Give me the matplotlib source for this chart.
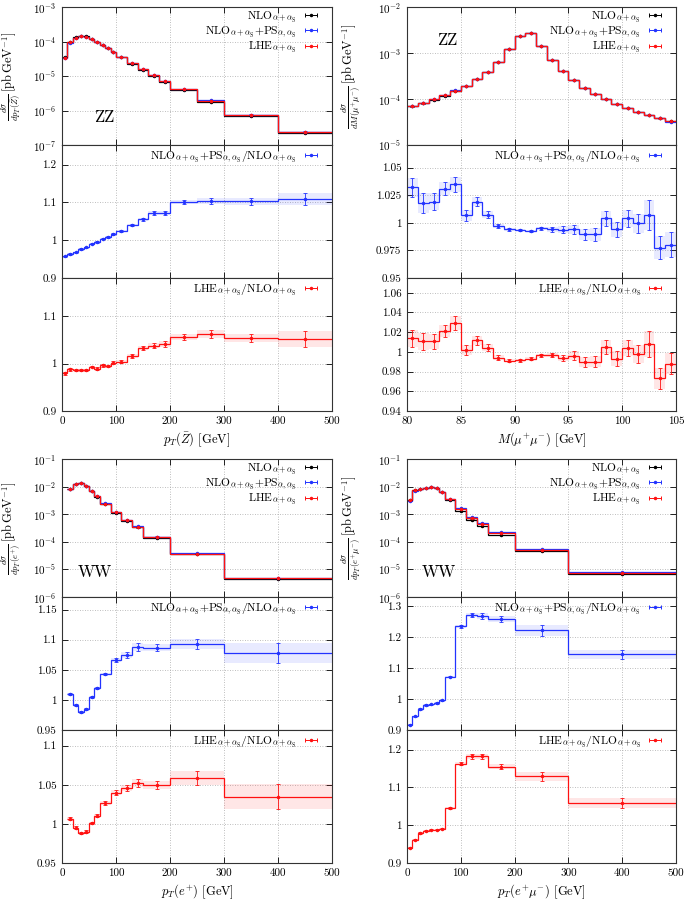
import numpy as np
import matplotlib
matplotlib.use('Agg')
import matplotlib.pyplot as plt
from matplotlib.ticker import FixedLocator, FixedFormatter, LogLocator, NullLocator, LogFormatterSciNotation

plt.rcParams['font.family'] = 'serif'
plt.rcParams['font.serif'] = ['cmr10', 'DejaVu Serif']
plt.rcParams['mathtext.fontset'] = 'cm'
plt.rcParams['axes.formatter.use_mathtext'] = True
plt.rcParams['axes.unicode_minus'] = False

# ---------------- data ----------------
# ZZ, pT(Zbar)
zz_pt_edges = [0, 10, 20, 30, 40, 50, 60, 70, 80, 90, 100, 120, 140, 160, 180, 200, 250, 300, 400, 500]
zz_pt_nlo = [3.5e-5, 9.6e-5, 1.31e-4, 1.46e-4, 1.40e-4, 1.20e-4, 9.6e-5, 7.8e-5, 6.4e-5, 4.9e-5,
             3.5e-5, 2.3e-5, 1.5e-5, 1.0e-5, 6.8e-6, 3.9e-6, 1.8e-6, 6.9e-7, 2.2e-7]
zz_pt_ps = [0.957, 0.963, 0.968, 0.977, 0.981, 0.991, 0.995, 1.004, 1.008, 1.016,
            1.025, 1.041, 1.055, 1.072, 1.072, 1.101, 1.104, 1.103, 1.110]
zz_pt_ps_err = [0.002, 0.002, 0.002, 0.002, 0.002, 0.002, 0.002, 0.002, 0.002, 0.002,
                0.002, 0.003, 0.004, 0.004, 0.004, 0.005, 0.007, 0.008, 0.014]
zz_pt_lhe = [0.980, 0.988, 0.986, 0.987, 0.987, 0.994, 0.989, 0.997, 0.995, 1.002,
             1.004, 1.017, 1.034, 1.038, 1.041, 1.057, 1.063, 1.055, 1.053]
zz_pt_lhe_err = [0.003, 0.003, 0.002, 0.002, 0.002, 0.002, 0.003, 0.003, 0.003, 0.003,
                 0.003, 0.004, 0.004, 0.005, 0.006, 0.006, 0.008, 0.008, 0.016]

# ZZ, M(mu+ mu-)
zz_m_edges = list(range(80, 106))
zz_m_nlo = [6.9e-5, 8.0e-5, 9.7e-5, 1.18e-4, 1.48e-4, 1.93e-4, 2.68e-4, 3.9e-4, 6.4e-4, 1.22e-3,
            2.39e-3, 2.68e-3, 1.44e-3, 7.1e-4, 4.0e-4, 2.55e-4, 1.75e-4, 1.28e-4, 1.0e-4, 7.8e-5,
            6.4e-5, 5.3e-5, 4.5e-5, 3.9e-5, 3.3e-5]
zz_m_ps = [1.032, 1.018, 1.019, 1.031, 1.035, 1.007, 1.019, 1.0075, 0.997, 0.994,
           0.9934, 0.9925, 0.995, 0.994, 0.9937, 0.994, 0.9897, 0.9897, 1.004, 0.994,
           1.004, 0.9994, 1.007, 0.9776, 0.980]
zz_m_ps_err = [0.0085, 0.009, 0.0075, 0.006, 0.0065, 0.005, 0.004, 0.0035, 0.002, 0.0015,
               0.0012, 0.0012, 0.0015, 0.002, 0.003, 0.004, 0.005, 0.006, 0.007, 0.007,
               0.008, 0.009, 0.0135, 0.011, 0.0115]
zz_m_lhe = [1.014, 1.011, 1.011, 1.021, 1.029, 1.002, 1.012, 1.004, 0.994, 0.991,
            0.9916, 0.993, 0.9966, 0.9966, 0.994, 0.996, 0.990, 0.990, 1.005, 0.993,
            1.004, 0.998, 1.008, 0.973, 0.988]
zz_m_lhe_err = [0.0085, 0.0085, 0.0075, 0.006, 0.007, 0.005, 0.0045, 0.0035, 0.0025, 0.0017,
                0.0014, 0.0014, 0.0017, 0.0023, 0.0033, 0.0045, 0.005, 0.0057, 0.007, 0.0075,
                0.0085, 0.0095, 0.013, 0.011, 0.011]

# WW, pT(e+)
ww_pt_edges = [10, 20, 30, 40, 50, 60, 70, 90, 110, 130, 150, 200, 300, 500]
ww_pt_nlo = [8.2e-3, 1.28e-2, 1.36e-2, 1.03e-2, 6.9e-3, 4.35e-3, 2.36e-3, 1.12e-3, 5.9e-4,
             3.3e-4, 1.43e-4, 3.5e-5, 4.6e-6]
ww_pt_ps = [1.010, 0.992, 0.980, 0.985, 1.0045, 1.020, 1.043, 1.066, 1.074, 1.088, 1.087, 1.093, 1.078]
ww_pt_ps_err = [0.0015, 0.0015, 0.0015, 0.0015, 0.0015, 0.0018, 0.002, 0.003, 0.0045,
                0.0055, 0.005, 0.008, 0.016]
ww_pt_lhe = [1.0068, 0.995, 0.988, 0.990, 1.001, 1.0106, 1.027, 1.040, 1.046, 1.052, 1.050, 1.059, 1.035]
ww_pt_lhe_err = [0.0017, 0.0017, 0.0015, 0.0017, 0.0017, 0.002, 0.0022, 0.0034, 0.004,
                 0.005, 0.005, 0.0085, 0.0157]

# WW, pT(e+ mu-)
ww_ptem_edges = [0, 10, 20, 30, 40, 50, 60, 70, 90, 110, 130, 150, 200, 300, 500]
ww_ptem_nlo = [3.4e-3, 7.6e-3, 8.5e-3, 9.2e-3, 9.5e-3, 8.7e-3, 6.4e-3, 3.4e-3, 1.32e-3,
               6.4e-4, 3.8e-4, 1.75e-4, 4.6e-5, 7.0e-6]
ww_ptem_ps = [0.917, 0.944, 0.968, 0.981, 0.983, 0.987, 0.996, 1.072, 1.235, 1.273, 1.268, 1.258, 1.222, 1.145]
ww_ptem_ps_err = [0.002, 0.002, 0.002, 0.002, 0.002, 0.002, 0.002, 0.002, 0.003,
                  0.005, 0.0075, 0.0075, 0.014, 0.013]
ww_ptem_lhe = [0.941, 0.962, 0.980, 0.986, 0.988, 0.988, 0.991, 1.0456, 1.163, 1.182, 1.182, 1.155, 1.130, 1.059]
ww_ptem_lhe_err = [0.002, 0.002, 0.002, 0.002, 0.002, 0.002, 0.002, 0.002, 0.003,
                   0.005, 0.005, 0.005, 0.0105, 0.012]

# ---------------- style ----------------
C_NLO = '#000000'
C_PS = '#2233ff'
C_LHE = '#ff1111'
FS = 8

lab_nlo = r'NLO$_{\alpha+\alpha_{\rm S}}$'
lab_ps = r'NLO$_{\alpha+\alpha_{\rm S}}$+PS$_{\alpha,\alpha_{\rm S}}$'
lab_lhe = r'LHE$_{\alpha+\alpha_{\rm S}}$'
lab_r1 = r'NLO$_{\alpha+\alpha_{\rm S}}$+PS$_{\alpha,\alpha_{\rm S}}$/NLO$_{\alpha+\alpha_{\rm S}}$'
lab_r2 = r'LHE$_{\alpha+\alpha_{\rm S}}$/NLO$_{\alpha+\alpha_{\rm S}}$'

fig = plt.figure(figsize=(6.85, 9.02), dpi=100)


def style_ax(ax):
    ax.tick_params(direction='in', top=True, right=True, length=4, width=0.6, labelsize=FS, pad=4)
    ax.grid(True, ls=(0, (1, 2)), color='#a8a8a8', lw=0.6)
    for s in ax.spines.values():
        s.set_linewidth(0.8)
        s.set_color('#333333')
    ax.set_axisbelow(True)


def hist(ax, edges, vals, err, color, lw=0.9):
    ax.stairs(vals * (1 + err), edges, baseline=vals * (1 - err), fill=True,
              color=color, alpha=0.10, lw=0)
    ax.stairs(vals, edges, baseline=None, color=color, lw=lw)
    centers = 0.5 * (edges[:-1] + edges[1:])
    ax.errorbar(centers, vals, yerr=vals * err, fmt='.', ms=3, color=color,
                ecolor=color, elinewidth=0.6, capsize=1.6, capthick=0.6)


def legend(ax, entries, y_anchor=1.0):
    handles = []
    for lab, c in entries:
        h = ax.errorbar([np.nan], [np.nan], xerr=[1], fmt='.', ms=3, color=c,
                        elinewidth=0.7, capsize=1.6, capthick=0.7)
        handles.append(h)
    ax.legend(handles, [e[0] for e in entries], loc='upper right',
              bbox_to_anchor=(0.955, y_anchor), markerfirst=False, frameon=False,
              fontsize=FS + 0.3, handlelength=1.1, handletextpad=0.7, labelspacing=0.0,
              borderaxespad=0.0, borderpad=0.2)


def block(x0, w, tops, edges, nlo, r1, e1, r2, e2, ylim_m, ylim1, yt1, ylim2, yt2,
          xlim, xticks, ylabel, xlabel, proc, proc_xy, ylab_x):
    H = 902.0
    edges = np.asarray(edges, float)
    nlo = np.asarray(nlo, float)
    r1 = np.asarray(r1, float); e1 = np.asarray(e1, float)
    r2 = np.asarray(r2, float); e2 = np.asarray(e2, float)
    t0, t1, t2, t3 = tops
    axm = fig.add_axes([x0, 1 - t1 / H, w, (t1 - t0) / H])
    ax1 = fig.add_axes([x0, 1 - t2 / H, w, (t2 - t1) / H])
    ax2 = fig.add_axes([x0, 1 - t3 / H, w, (t3 - t2) / H])
    for ax in (axm, ax1, ax2):
        style_ax(ax)
        ax.set_xlim(*xlim)
        ax.xaxis.set_major_locator(FixedLocator(xticks))
    axm.tick_params(labelbottom=False)
    ax1.tick_params(labelbottom=False)
    ax2.xaxis.set_major_formatter(FixedFormatter([str(t) for t in xticks]))

    # main panel
    axm.set_yscale('log')
    axm.set_ylim(*ylim_m)
    axm.yaxis.set_major_locator(LogLocator(base=10, numticks=12))
    axm.yaxis.set_major_formatter(LogFormatterSciNotation())
    axm.yaxis.set_minor_locator(NullLocator())
    hist(axm, edges, nlo, e1, C_NLO)
    hist(axm, edges, nlo * r1, e1, C_PS)
    hist(axm, edges, nlo * r2, e2, C_LHE)
    legend(axm, [(lab_nlo, C_NLO), (lab_ps, C_PS), (lab_lhe, C_LHE)])
    axm.text(proc_xy[0], proc_xy[1], proc, transform=axm.transAxes, fontsize=12,
             ha='center', va='center')
    axm.set_ylabel(ylabel, fontsize=FS + 1)
    axm.yaxis.set_label_coords(ylab_x, 0.5)

    # ratio panels
    for ax, r, e, c, lim, yt, lab in ((ax1, r1, e1, C_PS, ylim1, yt1, lab_r1),
                                      (ax2, r2, e2, C_LHE, ylim2, yt2, lab_r2)):
        ax.set_ylim(*lim)
        ax.yaxis.set_major_locator(FixedLocator(yt))
        ax.yaxis.set_major_formatter(FixedFormatter([('%g' % v) for v in yt]))
        hist(ax, edges, r, e, c)
        legend(ax, [(lab, c)], y_anchor=0.985)
    ax2.set_xlabel(xlabel, fontsize=FS + 1)
    ax2.xaxis.set_label_coords(0.5, -0.15)


TOP = (7, 145, 278, 411)
BOT = (459, 597, 730, 863)
XL, WL = 62 / 685, 270 / 685
XR, WR = 407 / 685, 269 / 685

block(XL, WL, TOP, zz_pt_edges, zz_pt_nlo, zz_pt_ps, zz_pt_ps_err, zz_pt_lhe, zz_pt_lhe_err,
      (1e-7, 1e-3), (0.9, 1.252), [0.9, 1.0, 1.1, 1.2], (0.9, 1.181), [0.9, 1.0, 1.1],
      (0, 500), [0, 100, 200, 300, 400, 500],
      r'$\frac{d\sigma}{dp_T(\bar{Z})}\,[\mathrm{pb\,GeV}^{-1}]$', r'$p_T(\bar{Z})$ [GeV]',
      'ZZ', (0.155, 0.2), -0.145)

block(XR, WR, TOP, zz_m_edges, zz_m_nlo, zz_m_ps, zz_m_ps_err, zz_m_lhe, zz_m_lhe_err,
      (1e-5, 1e-2), (0.95, 1.0705), [0.95, 0.975, 1.0, 1.025, 1.05],
      (0.94, 1.075), [0.94, 0.96, 0.98, 1.0, 1.02, 1.04, 1.06],
      (80, 105), [80, 85, 90, 95, 100, 105],
      r'$\frac{d\sigma}{dM(\mu^{+}\mu^{-})}\,[\mathrm{pb\,GeV}^{-1}]$', r'$M(\mu^{+}\mu^{-})$ [GeV]',
      'ZZ', (0.15, 0.76), -0.165)

block(XL, WL, BOT, ww_pt_edges, ww_pt_nlo, ww_pt_ps, ww_pt_ps_err, ww_pt_lhe, ww_pt_lhe_err,
      (1e-6, 1e-1), (0.95, 1.171), [0.95, 1.0, 1.05, 1.1, 1.15],
      (0.95, 1.12), [0.95, 1.0, 1.05, 1.1],
      (0, 500), [0, 100, 200, 300, 400, 500],
      r'$\frac{d\sigma}{dp_T(e^{+})}\,[\mathrm{pb\,GeV}^{-1}]$', r'$p_T(e^{+})$ [GeV]',
      'WW', (0.12, 0.18), -0.145)

block(XR, WR, BOT, ww_ptem_edges, ww_ptem_nlo, ww_ptem_ps, ww_ptem_ps_err, ww_ptem_lhe, ww_ptem_lhe_err,
      (1e-6, 1e-1), (0.9, 1.33), [0.9, 1.0, 1.1, 1.2, 1.3],
      (0.9, 1.252), [0.9, 1.0, 1.1, 1.2],
      (0, 500), [0, 100, 200, 300, 400, 500],
      r'$\frac{d\sigma}{dp_T(e^{+}\mu^{-})}\,[\mathrm{pb\,GeV}^{-1}]$', r'$p_T(e^{+}\mu^{-})$ [GeV]',
      'WW', (0.12, 0.18), -0.165)

fig.savefig('out.png', dpi=100)
